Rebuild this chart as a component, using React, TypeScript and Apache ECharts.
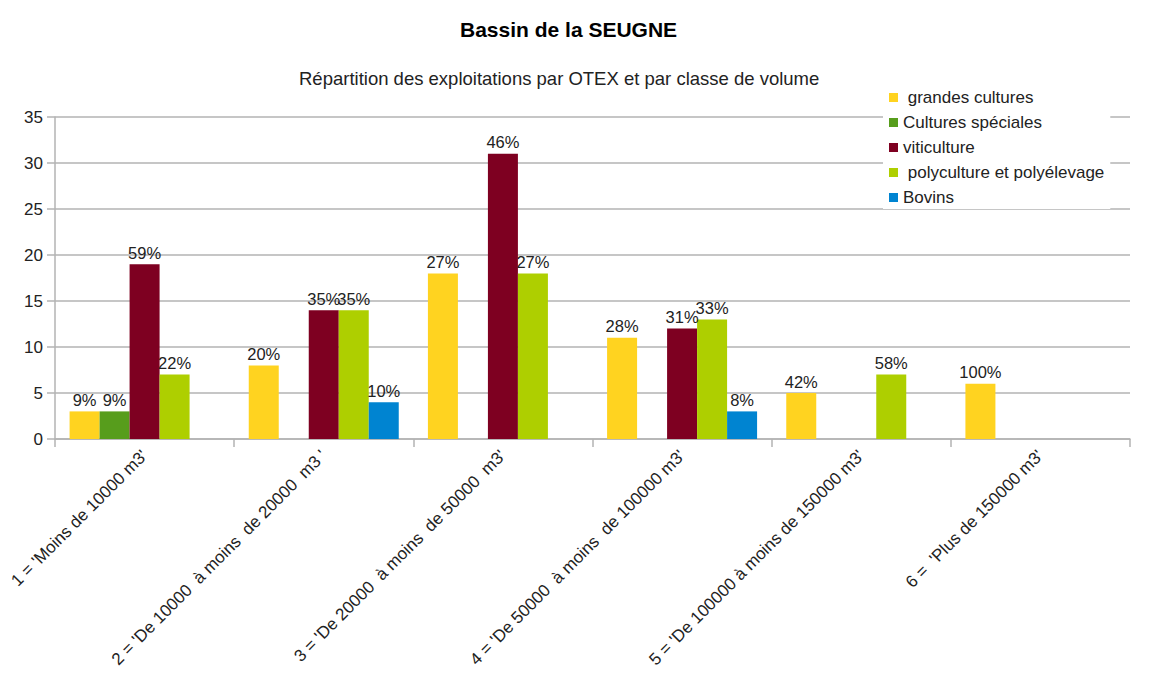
import React, { useEffect, useRef } from "react";
import * as echarts from "echarts";

const categories = [
  "1 = 'Moins de 10000 m3'",
  "2 = 'De 10000  à moins  de 20000  m3 '",
  "3 = 'De 20000  à moins  de 50000  m3'",
  "4 = 'De 50000  à moins  de 100000 m3'",
  "5 = 'De 100000 à moins de 150000 m3'",
  "6 =  'Plus de 150000 m3'",
];

const seriesNames = [
  " grandes cultures",
  "Cultures spéciales",
  "viticulture",
  " polyculture et polyélevage",
  "Bovins",
];
const seriesColors = ["#FFD320", "#579D1C", "#7E0021", "#AECF00", "#0084D1"];

const grandesCultures = [3, 8, 18, 11, 5, 6];
const culturesSpeciales = [3, null, null, null, null, null];
const viticulture = [19, 14, 31, 12, null, null];
const polyculture = [7, 14, 18, 13, 7, null];
const bovins = [null, 4, null, 3, null, null];

const grandesPct = ["9%", "20%", "27%", "28%", "42%", "100%"];
const specialesPct = ["9%", "", "", "", "", ""];
const vitiPct = ["59%", "35%", "46%", "31%", "", ""];
const polyPct = ["22%", "35%", "27%", "33%", "58%", ""];
const bovinsPct = ["", "10%", "", "8%", "", ""];

const yTicks = { min: 0, max: 35, interval: 5 };

const values = [grandesCultures, culturesSpeciales, viticulture, polyculture, bovins];
const pcts = [grandesPct, specialesPct, vitiPct, polyPct, bovinsPct];

export default function App() {
  const ref = useRef<HTMLDivElement>(null);
  useEffect(() => {
    if (!ref.current) return;
    const chart = echarts.init(ref.current, null, { renderer: "svg" });
    const font = "'Liberation Sans', Arial, sans-serif";
    chart.setOption({
      animation: false,
      backgroundColor: "#ffffff",
      textStyle: { fontFamily: font },
      title: [
        {
          text: "Bassin de la SEUGNE",
          left: 455,
          top: 14,
          textStyle: { fontSize: 21, fontWeight: "bold", color: "#000", fontFamily: font },
        },
        {
          text: "Répartition des exploitations par OTEX et par classe de volume",
          left: 294,
          top: 64,
          textStyle: { fontSize: 18.5, fontWeight: "normal", color: "#222", fontFamily: font },
        },
      ],
      legend: {
        orient: "vertical",
        left: 883,
        top: 86,
        itemWidth: 9,
        itemHeight: 9,
        itemGap: 8,
        icon: "rect",
        padding: [3, 6, 3, 6],
        backgroundColor: "#ffffff",
        textStyle: { fontSize: 17, color: "#222", fontFamily: font },
        data: seriesNames,
      },
      grid: { left: 55, right: 23, top: 117, bottom: 234 },
      xAxis: {
        type: "category",
        data: categories,
        axisLine: { lineStyle: { color: "#b3b3b3", width: 1.5 } },
        axisTick: { show: true, length: 8, lineStyle: { color: "#b3b3b3", width: 1.5 } },
        axisLabel: {
          rotate: 45,
          interval: 0,
          fontSize: 17,
          color: "#222",
          fontFamily: font,
          margin: 14,
        },
      },
      yAxis: {
        type: "value",
        min: yTicks.min,
        max: yTicks.max,
        interval: yTicks.interval,
        axisLine: { show: true, lineStyle: { color: "#b3b3b3", width: 1.5 } },
        axisTick: { show: true, length: 8, lineStyle: { color: "#b3b3b3", width: 1.5 } },
        splitLine: { lineStyle: { color: "#b3b3b3", width: 1.5 } },
        axisLabel: { fontSize: 17, color: "#222", fontFamily: font, margin: 12 },
      },
      series: seriesNames.map((name, i) => ({
        name,
        type: "bar",
        barWidth: 30,
        barGap: "0%",
        itemStyle: { color: seriesColors[i] },
        data: values[i],
        label: {
          show: true,
          position: "top",
          distance: 3,
          fontSize: 16.5,
          color: "#222",
          fontFamily: font,
          formatter: (p: any) => pcts[i][p.dataIndex] || "",
        },
      })),
    });
    return () => chart.dispose();
  }, []);
  return <div ref={ref} style={{ width: 1153, height: 673, position: "absolute", left: 0, top: 0 }} />;
}
